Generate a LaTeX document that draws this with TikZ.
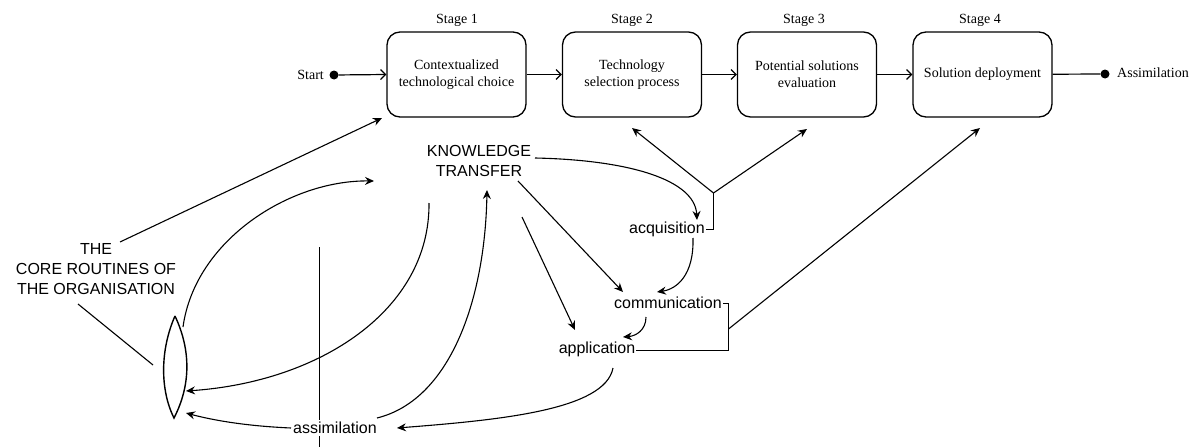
\documentclass[tikz,border=0pt]{standalone}
\usepackage{fontspec}
\setmainfont{Liberation Serif}
\newfontfamily\arialf{Liberation Sans}
\usetikzlibrary{arrows.meta}
\begin{document}
\begin{tikzpicture}[x=1pt,y=-1pt,
  stagebox/.style={draw, line width=1.3pt, rounded corners=13pt, minimum width=139pt, minimum height=85pt, align=center, font=\fontsize{14}{17}\selectfont, inner sep=0pt},
  stagelbl/.style={font=\fontsize{14}{17}\selectfont, inner sep=0pt},
  flow/.style={line width=1.2pt, -{Straight Barb[length=5pt,width=10pt]}},
  ktext/.style={font=\arialf\fontsize{16}{20}\selectfont, inner sep=1pt},
  karrow/.style={line width=1.1pt, -{Stealth[length=9pt,width=8pt,inset=3pt]}},
  kline/.style={line width=0.8pt},
  dot/.style={circle, fill, inner sep=0pt, minimum size=9pt}]
\useasboundingbox (0,0) rectangle (1195,447);

% ---- top process row ----
\node[stagebox] (b1) at (456.5,74.5) {Contextualized\\technological choice};
\node[stagebox] (b2) at (632,74.5) {Technology\\selection process};
\node[stagebox] (b3) at (807,74.5) {Potential solutions\\evaluation};
\node[stagebox] (b4) at (982.5,74.5) {Solution deployment};
\node[stagelbl] (s1) at (457,20) {Stage 1};
\node[stagelbl] (s2) at (632,20) {Stage 2};
\node[stagelbl] (s3) at (804,20) {Stage 3};
\node[stagelbl] (s4) at (980,20) {Stage 4};
\node[dot] (sdot) at (334,75) {};
\node[stagelbl, anchor=east] (start) at (324,75) {Start};
\node[dot] (edot) at (1105,74) {};
\node[stagelbl, anchor=west] (assimtop) at (1117,73) {Assimilation};
\draw[flow] (sdot) -- (b1.west);
\draw[flow] (b1) -- (b2);
\draw[flow] (b2) -- (b3);
\draw[flow] (b3) -- (b4);
\draw[line width=1.2pt] (b4) -- (edot);

% ---- knowledge transfer part ----
\node[ktext, align=center] (kt) at (479,161) {KNOWLEDGE\\TRANSFER};
\node[ktext, align=center] (core) at (96,269) {THE\\CORE ROUTINES OF\\THE ORGANISATION};
\node[ktext] (acq) at (667,229) {acquisition};
\node[ktext] (comm) at (668,303) {communication};
\node[ktext] (app) at (597,349) {application};

% lens (core routines)
\coordinate (lensT) at (175,316);
\coordinate (lensB) at (174,418);
\draw[line width=1.4pt] (lensT) .. controls (160,350) and (160,390) .. (lensB)
  .. controls (191,385) and (191,350) .. (lensT);

% free ends
\coordinate (coreA) at (120,242);
\coordinate (b1tip) at (382,118);
\coordinate (coreB) at (78,304);
\coordinate (lensL) at (153,365);
\coordinate (lensR1) at (183,327);
\coordinate (ktL) at (374,181);
\coordinate (ktS) at (429,203);
\coordinate (lensR2) at (186,391);
\coordinate (lensR3) at (186,413);
\coordinate (vTop) at (319.5,247);
\coordinate (vBot) at (319.5,447);
\coordinate (asR) at (377,418);
\coordinate (ktB) at (487,190);
\coordinate (appS) at (613,368);
\coordinate (asTip) at (397,428);
\coordinate (ktR) at (535,158);
\coordinate (ktD1) at (518,181);
\coordinate (ktD2) at (522,217);
\coordinate (commTip) at (623,292);
\coordinate (appTip) at (575,330);
\coordinate (acqS) at (693,238);
\coordinate (commTip2) at (657,292);
\coordinate (commS) at (646,317);
\coordinate (appTip2) at (623,337);
\coordinate (yj) at (713.5,193);
\coordinate (t2) at (632,128);
\coordinate (t3) at (807,129);
\coordinate (cj) at (728.5,329);
\coordinate (t4) at (980,128);

\draw[karrow] (coreA) -- (b1tip);
\draw[line width=1.1pt] (coreB) -- (lensL);
\draw[karrow] (lensR1) .. controls (195,240) and (290,180) .. (ktL);
\draw[karrow] (ktS) .. controls (430,310) and (320,382) .. (lensR2);
\draw[kline] (vTop) -- (vBot);
\node[ktext, fill=white, inner sep=2pt] (assim) at (335,428) {assimilation};
\draw[karrow] (assim.west) .. controls (245,426) and (212,420) .. (lensR3);
\draw[karrow] (asR) .. controls (450,400) and (485,300) .. (ktB);
\draw[karrow] (appS) .. controls (605,410) and (500,420) .. (asTip);
\draw[karrow] (ktR) .. controls (630,160) and (695,180) .. (697,220) coordinate (acqTip);
\draw[karrow] (ktD1) -- (commTip);
\draw[karrow] (ktD2) -- (appTip);
\draw[karrow] (acqS) .. controls (694,275) and (677,289) .. (commTip2);
\draw[karrow] (commS) .. controls (646,330) and (636,336) .. (appTip2);

% brackets
\draw[kline] (acq.east) -| (yj);
\draw[karrow] (yj) -- (t2);
\draw[karrow] (yj) -- (t3);
\draw[kline] (comm.east) -| (728.5,350.5) -- (app.east |- 728.5,350.5);
\draw[karrow] (cj) -- (t4);
\end{tikzpicture}
\end{document}
